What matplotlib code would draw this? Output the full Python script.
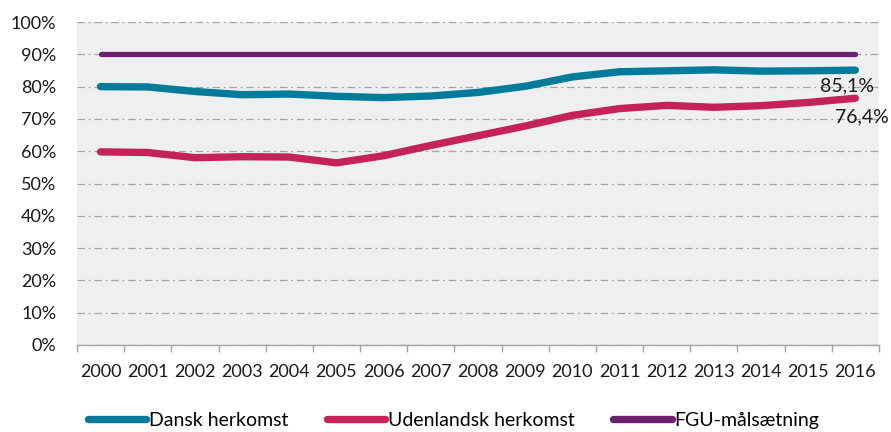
import numpy as np
import matplotlib
matplotlib.use("Agg")
import matplotlib.pyplot as plt
from matplotlib.ticker import FixedLocator, FuncFormatter

TEAL   = "#007B9A"
RED    = "#C5215A"
PURPLE = "#6B2070"
GRID   = "#A3A3A3"
BG     = "#EEEFF1"

plt.rcParams["font.family"] = ["Lato", "DejaVu Sans"]

years = [str(y) for y in range(2000, 2017)]
dansk = [80.0, 79.9, 78.5, 77.5, 77.7, 77.0, 76.6, 77.1, 78.2, 80.1,
         83.0, 84.6, 84.9, 85.2, 84.8, 84.9, 85.1]
udenlandsk = [59.8, 59.6, 58.0, 58.3, 58.2, 56.4, 58.6, 61.8, 64.8, 67.8,
              71.1, 73.2, 74.2, 73.6, 74.1, 75.1, 76.4]
fgu = [90.0] * len(years)

x = np.arange(len(years))

fig = plt.figure(figsize=(8.91, 4.32), dpi=100)
ax = fig.add_axes([0.0864, 0.2014, 0.9001, 0.7476])
ax.set_facecolor(BG)

ax.plot(x, dansk, color=TEAL, linewidth=5.3, solid_capstyle="round",
        solid_joinstyle="round", label="Dansk herkomst", zorder=3)
ax.plot(x, udenlandsk, color=RED, linewidth=5.3, solid_capstyle="round",
        solid_joinstyle="round", label="Udenlandsk herkomst", zorder=3)
ax.plot(x, fgu, color=PURPLE, linewidth=3.8, solid_capstyle="round",
        label="FGU-målsætning", zorder=3)

# end labels
ax.annotate(f"{dansk[-1]:.1f}%".replace(".", ","), (x[-1], dansk[-1]),
            xytext=(-6, -5), textcoords="offset points",
            ha="center", va="top", fontsize=14, color="#1a1a1a")
ax.annotate(f"{udenlandsk[-1]:.1f}%".replace(".", ","), (x[-1], udenlandsk[-1]),
            xytext=(5, -7), textcoords="offset points",
            ha="center", va="top", fontsize=14, color="#1a1a1a")

ax.set_xlim(-0.5, len(years) - 0.5)
ax.set_ylim(0, 100)

ax.set_yticks(np.arange(0, 101, 10))
ax.yaxis.set_major_formatter(FuncFormatter(lambda v, p: f"{v:.0f}%"))
ax.grid(axis="y", color=GRID, linestyle=(0, (6, 3, 1.5, 3)), linewidth=0.9, zorder=1)
ax.tick_params(axis="y", length=0, pad=15, labelsize=13, labelcolor="#1a1a1a")

ax.set_xticks(x)
ax.set_xticklabels(years)
ax.xaxis.set_minor_locator(FixedLocator(np.arange(-0.5, len(years), 1)))
ax.tick_params(axis="x", which="major", length=0, pad=14, labelsize=13,
               labelcolor="#1a1a1a")
ax.tick_params(axis="x", which="minor", length=5, width=1, color=GRID)

for s in ["top", "right", "left"]:
    ax.spines[s].set_visible(False)
ax.spines["bottom"].set_color(GRID)
ax.spines["bottom"].set_linewidth(1)
ax.spines["bottom"].set_zorder(4)

handles, labels = ax.get_legend_handles_labels()
leg = fig.legend(handles, labels, loc="center", bbox_to_anchor=(0.509, 0.026),
                 ncol=3, frameon=False, fontsize=14, handlelength=3.0,
                 handletextpad=0.12, columnspacing=2.0)
for h in leg.get_lines():
    h.set_linewidth(5.3)

plt.savefig("out.png", dpi=100)
plt.close()
